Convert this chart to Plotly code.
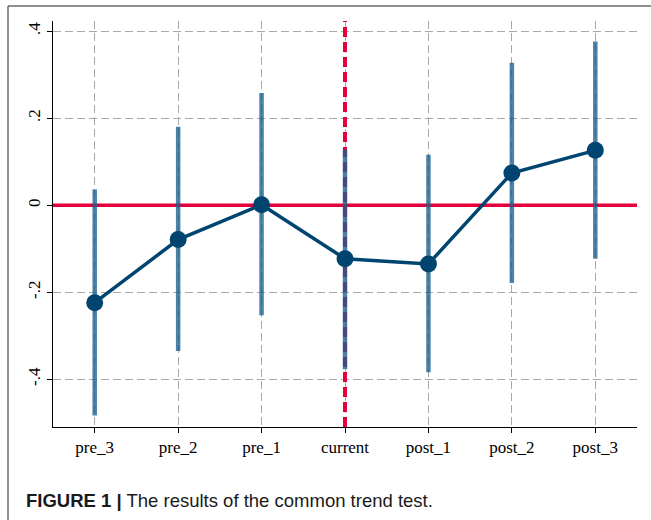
import plotly.graph_objects as go

categories = ["pre_3", "pre_2", "pre_1", "current", "post_1", "post_2", "post_3"]
estimates = [-0.224, -0.079, 0.001, -0.123, -0.135, 0.074, 0.126]
ci_low = [-0.483, -0.335, -0.253, -0.377, -0.384, -0.179, -0.123]
ci_high = [0.036, 0.180, 0.258, 0.128, 0.116, 0.327, 0.376]
y_ticks = [-0.4, -0.2, 0, 0.2, 0.4]
y_tick_labels = ["-.4", "-.2", "0", ".2", ".4"]
event_period = "current"
reference_value = 0
caption = "<b>FIGURE 1 |</b> The results of the common trend test."

W, H = 651, 520
L, R, T, B = 53, 14, 21, 93
pw, ph = W - L - R, H - T - B

def px_x(p):
    return (p - L) / pw

def px_y(p):
    return (H - B - p) / ph

red = "#e4003a"
navy = "#00456f"

x_idx = list(range(len(categories)))
x_range = [-0.5, len(categories) - 0.5]
y_range = [-0.5096, 0.4232]
ev = categories.index(event_period)

ci_x, ci_y = [], []
for i, lo, hi in zip(x_idx, ci_low, ci_high):
    ci_x += [i, i, None]
    ci_y += [lo, hi, None]

fig = go.Figure()
# reference lines (under CIs)
fig.add_trace(go.Scatter(
    x=x_range, y=[reference_value, reference_value], mode="lines",
    line=dict(color=red, width=3.5), hoverinfo="skip", showlegend=False))
fig.add_trace(go.Scatter(
    x=[ev, ev], y=y_range, mode="lines",
    line=dict(color=red, width=4, dash="10px,5px"), hoverinfo="skip", showlegend=False))
fig.add_trace(go.Scatter(
    x=ci_x, y=ci_y, mode="lines",
    line=dict(color="rgba(25,95,140,0.78)", width=4.5),
    hoverinfo="skip", showlegend=False))
fig.add_trace(go.Scatter(
    x=x_idx, y=estimates, mode="lines+markers",
    line=dict(color=navy, width=3.5),
    marker=dict(color=navy, size=17),
    showlegend=False))

# outer frame (left and top border)
fig.add_shape(type="line", xref="paper", yref="paper",
              x0=px_x(8), x1=px_x(8), y0=px_y(6), y1=px_y(H + 5),
              line=dict(color="#6a6a6a", width=1.5), layer="above")
fig.add_shape(type="line", xref="paper", yref="paper",
              x0=px_x(8), x1=px_x(W + 5), y0=px_y(6), y1=px_y(6),
              line=dict(color="#6a6a6a", width=1.5), layer="above")

fig.add_annotation(text=caption, xref="paper", yref="paper",
                   x=px_x(24), y=px_y(500), xanchor="left", yanchor="middle",
                   showarrow=False,
                   font=dict(family="Liberation Sans, Arial", size=18.5, color="#1a1a1a"))

axis_font = dict(family="Liberation Serif, Times New Roman, serif", size=17, color="black")
fig.update_xaxes(
    range=x_range, tickvals=x_idx, ticktext=categories,
    showline=True, linecolor="black", linewidth=1,
    ticks="outside", ticklen=5, tickcolor="black",
    showgrid=True, gridcolor="#a9a9a9", gridwidth=1, griddash="8px,4px",
    tickfont=axis_font, zeroline=False, automargin=False)
fig.update_yaxes(
    range=y_range,
    tickvals=y_ticks, ticktext=y_tick_labels, tickangle=-90,
    showline=True, linecolor="black", linewidth=1,
    ticks="outside", ticklen=5, tickcolor="black",
    showgrid=True, gridcolor="#a9a9a9", gridwidth=1, griddash="8px,4px",
    tickfont=axis_font, zeroline=False, automargin=False)

fig.update_layout(
    width=W, height=H,
    margin=dict(l=L, r=R, t=T, b=B),
    paper_bgcolor="white", plot_bgcolor="white",
    showlegend=False)

fig.write_html("out.html",
               config={"displayModeBar": False},
               post_script="document.body.style.margin='0';document.body.style.padding='0';")
